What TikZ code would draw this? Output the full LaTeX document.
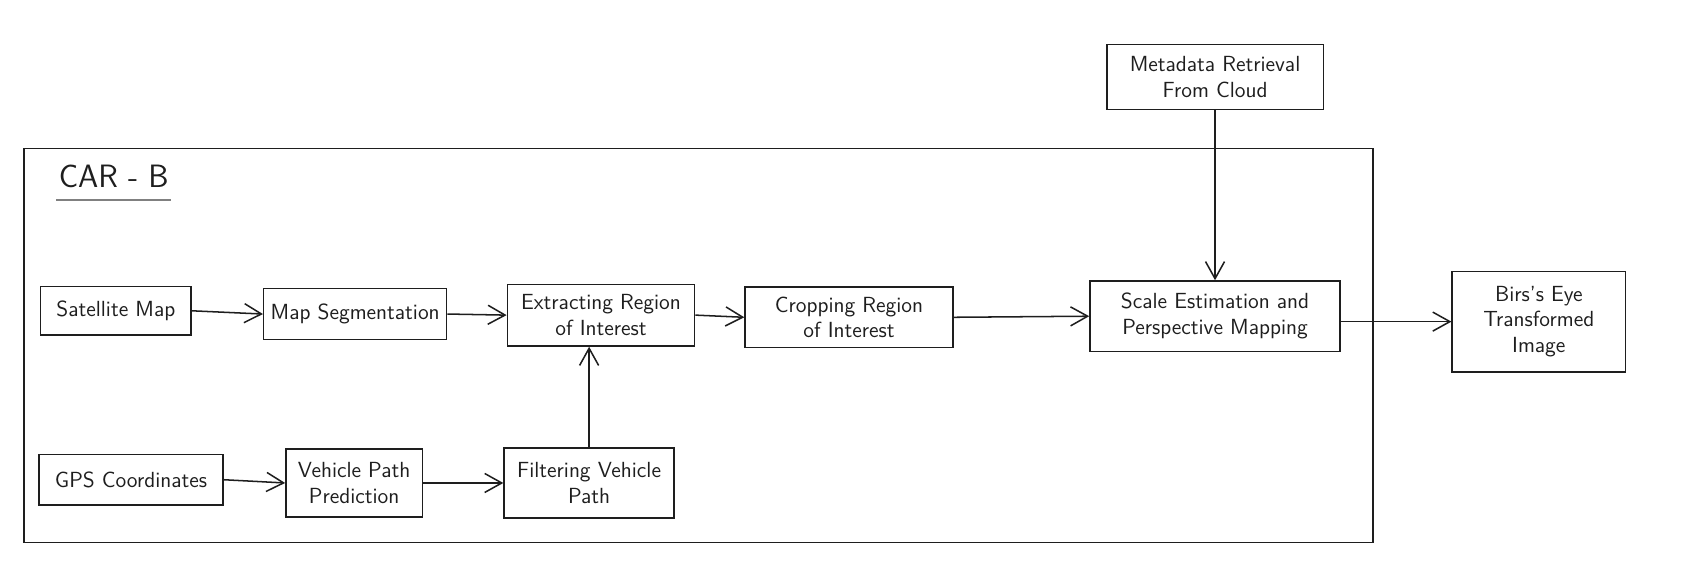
\documentclass[tikz,border=0pt]{standalone}
\usepackage{amsmath}
\usepackage{xcolor}
\usepackage{tikz}
\usetikzlibrary{arrows.meta}
\definecolor{inkgray}{HTML}{1E1E1E}
\begin{document}
\begin{tikzpicture}[x=0.02cm, y=-0.02cm,
    every node/.style={font=\sffamily\fontsize{11.5}{13.5}\selectfont, text=inkgray},
    stage/.style={draw=inkgray, line width=0.8pt, align=center, inner sep=2pt},
    flow/.style={draw=inkgray, line width=0.8pt, -{Straight Barb[length=9pt,width=10pt]}}]
    \useasboundingbox (0,0) rectangle (1568,536);
    \node[draw=inkgray, line width=0.8pt, minimum width=24.92cm, minimum height=7.28cm] (carframe) at (645,319) {};
    \node[font=\sffamily\fontsize{17}{20}\selectfont, inner sep=1pt] (cartitle) at (105,163) {CAR - B};
    \draw[draw=gray, line width=1.2pt] ([yshift=-5pt]cartitle.south west) -- ([yshift=-5pt]cartitle.south east);

    \node[stage, minimum width=2.78cm, minimum height=0.90cm] (satmap) at (107,287) {Satellite Map};
    \node[stage, minimum width=3.38cm, minimum height=0.94cm] (mapseg) at (328,290) {Map Segmentation};
    \node[stage, minimum width=3.46cm, minimum height=1.14cm] (extroi) at (555,291) {Extracting Region\\of Interest};
    \node[stage, minimum width=3.84cm, minimum height=1.12cm] (croproi) at (784,293) {Cropping Region\\of Interest};
    \node[stage, minimum width=4.62cm, minimum height=1.30cm] (scalemap) at (1122,292) {Scale Estimation and\\Perspective Mapping};
    \node[stage, minimum width=3.20cm, minimum height=1.86cm] (birdseye) at (1421,297) {Birs's Eye\\Transformed\\Image};
    \node[stage, minimum width=4.00cm, minimum height=1.20cm] (metacloud) at (1122,71) {Metadata Retrieval\\From Cloud};
    \node[stage, minimum width=3.40cm, minimum height=0.94cm] (gpscoord) at (121,443) {GPS Coordinates};
    \node[stage, minimum width=2.52cm, minimum height=1.26cm] (pathpred) at (327,446) {Vehicle Path\\Prediction};
    \node[stage, minimum width=3.14cm, minimum height=1.30cm] (pathfilt) at (544,446) {Filtering Vehicle\\Path};

    \draw[flow] (satmap.east) -- (mapseg.west);
    \draw[flow] (mapseg.east) -- (extroi.west);
    \draw[flow] (extroi.east) -- (croproi.west);
    \draw[flow] (croproi.east) -- (scalemap.west);
    \draw[flow] (scalemap.east |- birdseye.west) -- (birdseye.west);
    \draw[flow] (metacloud.south) -- (scalemap.north);
    \draw[flow] (gpscoord.east) -- (pathpred.west);
    \draw[flow] (pathpred.east) -- (pathfilt.west);
    \draw[flow] (pathfilt.north) -- (pathfilt.north |- extroi.south);
\end{tikzpicture}
\end{document}
